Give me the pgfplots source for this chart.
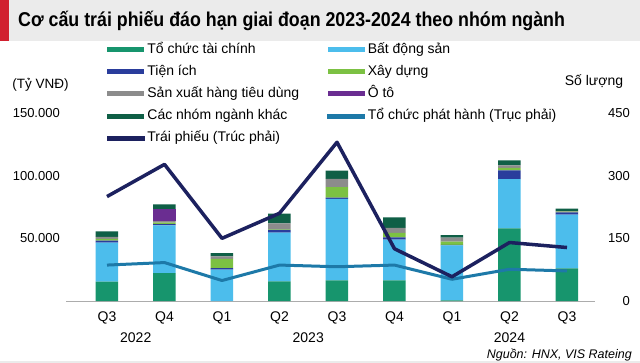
\documentclass[border=0pt]{standalone}
\usepackage{pgfplots}
\pgfplotsset{compat=1.18}
\usepackage{fontspec}
\setmainfont{Liberation Sans}
\newfontfamily\titlefont[FakeStretch=0.89]{Liberation Sans}
\definecolor{cTC}{HTML}{17956D}
\definecolor{cBDS}{HTML}{4CBDEC}
\definecolor{cTI}{HTML}{2A3D9C}
\definecolor{cXD}{HTML}{7CC143}
\definecolor{cSX}{HTML}{8C8C8C}
\definecolor{cOTO}{HTML}{6A2D91}
\definecolor{cKH}{HTML}{0F5F46}
\definecolor{cTCPH}{HTML}{1D79A8}
\definecolor{cTP}{HTML}{1C215F}
\definecolor{cBand}{HTML}{EBEBEB}
\definecolor{cRed}{HTML}{D1202F}
\begin{document}
\begin{tikzpicture}
\path[use as bounding box] (0bp,0bp) rectangle (640bp,-363bp);
\fill[white] (0bp,0bp) rectangle (640bp,-363bp);
\fill[cBand] (0bp,0bp) rectangle (640bp,-41bp);
\fill[cRed] (0bp,0bp) rectangle (9bp,-41bp);
\node[anchor=west, inner sep=0pt, font=\titlefont\bfseries\fontsize{20bp}{24bp}\selectfont] at (18bp,-20.5bp) {Cơ cấu trái phiếu đáo hạn giai đoạn 2023-2024 theo nhóm ngành};
\fill[cBand] (0bp,-361bp) rectangle (640bp,-363bp);

\begin{axis}[
  at={(66bp,-301bp)}, anchor=south west,
  scale only axis, width=529bp, height=188bp,
  xmin=-0.713, xmax=8.487, ymin=0, ymax=150000,
  scaled y ticks=false,
  ybar stacked, bar width=22.5bp,
  axis x line*=bottom, axis y line*=left,
  x axis line style={draw=gray!65, line width=1bp, -},
  y axis line style={draw=none},
  major tick length=0pt,
  ytick={50000,100000,150000}, yticklabels={50.000,100.000,150.000},
  yticklabel style={anchor=east, inner sep=0pt, xshift=-6bp, font=\fontsize{13bp}{15bp}\selectfont},
  xtick={0,1,2,3,4,5,6,7,8}, xticklabels={Q3,Q4,Q1,Q2,Q3,Q4,Q1,Q2,Q3},
  xticklabel style={anchor=north, inner sep=0pt, yshift=-11bp, font=\fontsize{14bp}{16bp}\selectfont},
  extra x ticks={0.5,3.5,7}, extra x tick labels={2022,2023,2024},
  extra x tick style={xticklabel style={yshift=-21bp}},
  legend columns=2, legend cell align=left,
  legend style={at={(0.0775,1.372)}, anchor=north west, draw=none, fill=none,
    inner sep=0pt, outer sep=0pt, column sep=0pt, row sep=9.2bp,
    font=\fontsize{14bp}{16bp}\selectfont,
    nodes={inner sep=0pt, text height=10bp, text depth=3bp}},
]
\addplot[fill=cTC, draw=none, legend image code/.code={\fill[cTC] (0bp,-2.5bp) rectangle (37bp,2.5bp);}]
  coordinates {(0,15400) (1,22300) (2,0) (3,15600) (4,16500) (5,16500) (6,500) (7,58000) (8,26100)};
\addlegendentry{\makebox[183bp][l]{\hspace{3bp}Tổ chức tài chính}}
\addplot[fill=cBDS, draw=none, legend image code/.code={\fill[cBDS] (0bp,-2.5bp) rectangle (37bp,2.5bp);}]
  coordinates {(0,31100) (1,38100) (2,25000) (3,38900) (4,64900) (5,32400) (6,43900) (7,39300) (8,42800)};
\addlegendentry{\hspace{3bp}Bất động sản}
\addplot[fill=cTI, draw=none, legend image code/.code={\fill[cTI] (0bp,-2.5bp) rectangle (37bp,2.5bp);}]
  coordinates {(0,1600) (1,1000) (2,1300) (3,2200) (4,1000) (5,1900) (6,300) (7,6900) (8,1900)};
\addlegendentry{\makebox[183bp][l]{\hspace{3bp}Tiện ích}}
\addplot[fill=cXD, draw=none, legend image code/.code={\fill[cXD] (0bp,-2.5bp) rectangle (37bp,2.5bp);}]
  coordinates {(0,1400) (1,1200) (2,7400) (3,500) (4,8500) (5,3500) (6,2700) (7,2100) (8,500)};
\addlegendentry{\hspace{3bp}Xây dựng}
\addplot[fill=cSX, draw=none, legend image code/.code={\fill[cSX] (0bp,-2.5bp) rectangle (37bp,2.5bp);}]
  coordinates {(0,1600) (1,1200) (2,1900) (3,4800) (4,6600) (5,4000) (6,3200) (7,1900) (8,500)};
\addlegendentry{\makebox[183bp][l]{\hspace{3bp}Sản xuất hàng tiêu dùng}}
\addplot[fill=cOTO, draw=none, legend image code/.code={\fill[cOTO] (0bp,-2.5bp) rectangle (37bp,2.5bp);}]
  coordinates {(0,0) (1,9800) (2,0) (3,0) (4,0) (5,0) (6,0) (7,0) (8,0)};
\addlegendentry{\hspace{3bp}Ô tô}
\addplot[fill=cKH, draw=none, legend image code/.code={\fill[cKH] (0bp,-2.5bp) rectangle (37bp,2.5bp);}]
  coordinates {(0,4500) (1,3500) (2,2700) (3,7700) (4,6600) (5,8500) (6,1900) (7,4000) (8,1900)};
\addlegendentry{\makebox[183bp][l]{\hspace{3bp}Các nhóm ngành khác}}
\addlegendimage{legend image code/.code={\fill[cTCPH] (0bp,-2bp) rectangle (37bp,2bp);}}
\addlegendentry{\hspace{3bp}Tổ chức phát hành (Trục phải)}
\addlegendimage{legend image code/.code={\fill[cTP] (0bp,-2bp) rectangle (37bp,2bp);}}
\addlegendentry{\makebox[183bp][l]{\hspace{3bp}Trái phiếu (Trúc phải)}}
\end{axis}

\begin{axis}[
  at={(66bp,-301bp)}, anchor=south west,
  scale only axis, width=529bp, height=188bp,
  xmin=-0.713, xmax=8.487, ymin=0, ymax=450,
  axis x line=none, axis y line*=right,
  y axis line style={draw=none},
  major tick length=0pt,
  ytick={0,150,300,450}, yticklabels={0,150,300,450},
  yticklabel style={anchor=east, inner sep=0pt, xshift=35bp, font=\fontsize{13bp}{15bp}\selectfont},
]
\addplot[cTCPH, line width=3bp, line join=round]
  coordinates {(0,86) (1,92) (2,49) (3,86) (4,82) (5,86) (6,52) (7,76) (8,72)};
\addplot[cTP, line width=3.5bp, line join=round]
  coordinates {(0,250) (1,327) (2,150) (3,210) (4,380) (5,125) (6,58) (7,140) (8,128)};
\end{axis}

\node[anchor=center, font=\fontsize{13.5bp}{16bp}\selectfont] at (40.5bp,-85bp) {(Tỷ VNĐ)};
\node[anchor=center, font=\fontsize{14bp}{16bp}\selectfont] at (594bp,-82bp) {Số lượng};
\node[anchor=east, inner sep=0pt, font=\itshape\fontsize{12.5bp}{15bp}\selectfont] at (632bp,-355bp) {Nguồn: HNX, VIS Rateing};
\end{tikzpicture}
\end{document}
